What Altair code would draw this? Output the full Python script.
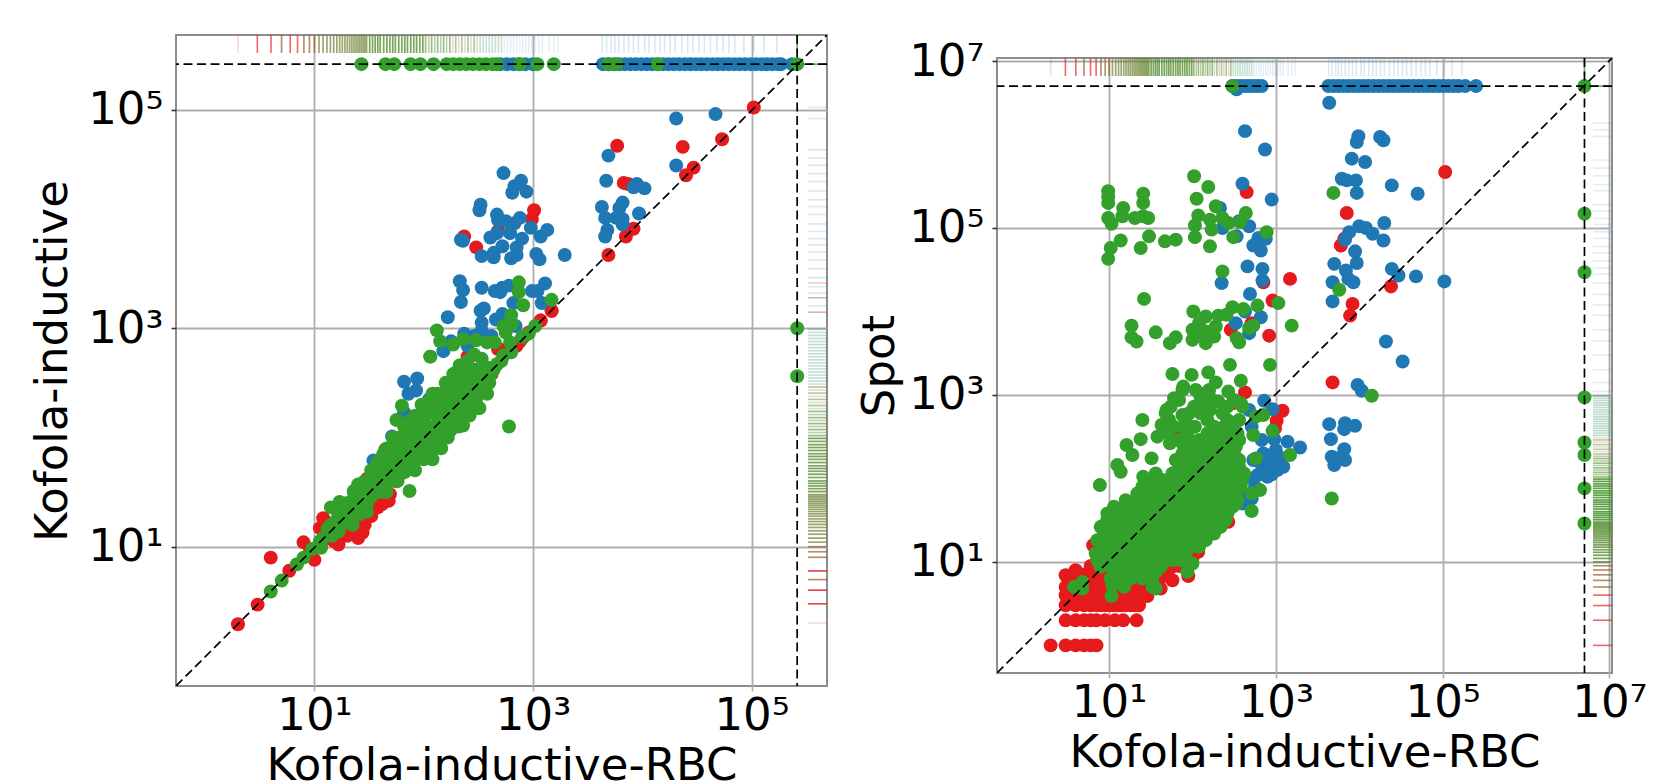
import altair as alt
import pandas as pd

RED, BLUE, GREEN = "#e41a1c", "#1f78b4", "#33a02c"

# All point lists are (log10 x, log10 y).
TIMEOUT_L = 5.417
TIMEOUT_R = 6.70

left_red = [(5.02,5.02),(4.73,4.73),(4.37,4.66),(3.77,4.67),(4.47,4.47),(4.40,4.40),(3.83,4.33),(3.87,4.32),
(3.92,3.91),(3.85,3.84),(3.69,3.67),(3.01,4.08),(2.99,4.0),(2.37,3.84),(2.48,3.74),(2.68,3.89),(3.17,3.16),
(3.07,3.07),(2.90,2.91),(2.96,2.96),(0.60,0.90),(0.48,0.47),(0.30,0.29),(0.77,0.78),(0.90,1.04),(1.0,0.88),
(1.08,1.26),(1.05,1.17),(1.16,1.07),(1.26,1.11),(1.44,1.13),(1.46,1.20),(1.36,1.20),(1.62,1.39),(1.69,1.48),
(1.54,1.39),(1.83,1.69),(1.65,1.89),(1.54,1.71),(2.01,1.83),(2.53,2.43),(2.44,2.75),(2.69,2.81),(2.88,2.88),
(1.48,1.62),(1.30,1.17),(1.18,1.05),(1.38,1.30),(2.68,2.81),(2.40,2.74),(2.85,2.84),(2.91,2.92),(3.07,3.07),
(3.17,3.16),(2.52,2.43),(1.50,1.50),(1.58,1.45),(1.75,1.60),(1.12,1.12),(1.35,1.15),(0.96,0.96),(2.62,2.58),
(1.40,1.08),(1.44,1.22),(1.58,1.36),(1.68,1.42),(1.30,1.10),(1.06,1.00),(1.52,1.28),(1.22,1.02)]

left_blue = [(4.31,4.92),(4.67,4.96),(3.69,4.58),(4.31,4.49),(3.67,4.35),(3.95,4.32),(4.02,4.28),(3.92,4.29),
(3.63,4.11),(3.82,4.15),(3.79,4.10),(3.97,4.05),(3.66,4.01),(3.76,4.01),(3.82,4.0),(3.82,3.95),(3.68,3.90),(3.66,3.84),
(2.73,4.42),(2.89,4.35),(2.83,4.30),(2.81,4.24),(2.94,4.25),(2.52,4.13),(2.51,4.08),(2.67,4.04),(2.68,3.99),(2.75,3.98),
(2.83,3.96),(2.88,4.01),(2.98,3.92),(3.13,3.90),(3.07,3.84),(2.67,3.87),(2.61,3.83),(2.79,3.87),(2.90,3.82),(2.34,3.81),
(2.36,3.80),(2.72,3.75),(2.85,3.74),(2.64,3.69),(2.53,3.66),(2.64,3.65),(2.85,3.67),(2.80,3.64),(3.03,3.68),(3.06,3.63),
(3.29,3.67),(2.33,3.43),(2.36,3.35),(2.34,3.24),(2.53,3.37),(2.65,3.34),(2.72,3.37),(2.78,3.39),(2.70,3.33),(2.99,3.34),
(3.04,3.34),(3.11,3.41),(3.08,3.23),(2.82,3.23),(2.55,3.18),(2.52,3.16),(2.22,3.10),(2.53,3.05),(2.53,2.98),(2.66,3.08),
(2.72,3.13),(2.84,3.02),(2.18,2.79),(2.25,2.88),(2.37,2.95),(2.46,2.93),(2.62,2.93),(2.40,2.84),(1.82,2.51),(1.94,2.54),
(1.86,2.40),(1.93,2.43),(2.46,2.62),(2.41,2.59),(2.23,2.46),(2.05,2.35),(1.82,2.23),(1.89,2.17),(1.71,2.01),(1.54,1.79)]
left_blue_timeout_x = [2.70,2.76,2.82,2.87,2.93,3.0,3.64,3.69,3.74,3.79,3.84,3.89,3.94,3.99,4.04,4.09,4.14,4.19,4.24,
4.29,4.34,4.39,4.44,4.49,4.54,4.59,4.64,4.69,4.74,4.79,4.84,4.89,4.94,4.99,5.04,5.09,5.14,5.19,5.24,5.27,5.37]

left_green = [(2.12,2.98),(2.15,2.88),(2.06,2.74),(2.27,2.85),(2.36,2.90),(2.48,2.89),(2.58,2.87),(2.65,2.87),(2.46,2.76),
(2.53,2.72),(2.33,2.66),(2.29,2.59),(2.87,3.42),(2.87,3.33),(2.91,3.21),(3.17,3.26),(2.80,3.12),(2.73,3.02),(2.81,3.04),
(2.75,2.96),(2.96,2.95),(2.79,2.87),(2.73,2.75),(2.67,2.67),(2.78,2.10),(1.80,2.29),(1.75,2.16),(2.50,2.27),(2.36,2.11),
(0.60,0.59),(0.70,0.69),(0.84,0.84),(0.90,0.90),(0.98,0.98),(1.06,0.99),(1.08,1.08),(1.12,1.16),(1.15,1.36),(1.23,1.41),
(1.22,1.14),(1.30,1.24),(1.38,1.30),(1.48,1.32),(1.40,1.57),(1.36,1.51),(1.46,1.57),(1.42,1.39),(1.54,1.54),(1.65,1.54),
(1.56,1.66),(1.69,1.69),(1.87,1.51),(1.91,1.77),(1.63,1.85),(1.75,1.91),(1.85,1.94),(1.97,2.0),(2.15,1.91),(2.13,1.97),
(2.07,1.86),(2.25,2.07),(2.35,2.12),(2.51,2.27),(2.06,2.74),(2.33,2.66),(2.27,2.58),(2.13,2.40),(2.05,2.33),(2.02,2.24),
(1.85,2.06),(1.87,2.15),(1.97,2.17),(2.13,2.21),(2.21,2.30),(2.37,2.36),(2.45,2.46),(2.53,2.52),(2.61,2.58),(2.71,2.70),
(2.45,2.61),(2.37,2.52),(2.29,2.43),(2.05,2.09),(2.17,2.15),(2.29,2.24),(1.69,1.85),(1.79,1.91),(1.91,1.98),(2.03,2.07),
(1.58,1.78),(1.65,1.72),(1.77,1.75),(1.89,1.86),(2.01,1.94),(1.58,1.60),(1.46,1.45),(1.30,1.36),(1.20,1.24),(1.36,1.42),
(1.54,1.63),(1.05,1.05),(1.16,1.10),(1.26,1.30),(1.50,1.48),(1.72,1.64),(1.80,1.80),(1.95,1.90),(2.08,2.0),(2.20,2.18),
(2.30,2.32),(2.42,2.40),(2.55,2.48),(2.80,2.78),(2.90,2.92),(3.02,3.02),(2.40,2.70),(2.58,2.64),(2.47,2.55),(2.34,2.46),
(1.44,1.48),(1.52,1.46),(1.60,1.50),(1.60,1.70),(1.70,1.60),(1.74,1.78),(1.82,1.68),(1.84,1.82),(1.92,1.88),(2.00,1.82),
(2.00,2.08),(2.10,2.10),(2.10,1.92),(2.18,2.04),(2.22,2.12),(2.26,2.20),(2.32,2.18),(2.40,2.28),(2.48,2.36),(2.42,2.52),
(2.50,2.60),(2.56,2.56),(2.64,2.62),(1.94,2.08),(1.92,2.12),(1.78,2.00),(1.80,1.96),(1.72,1.94),(1.68,1.78),(2.18,2.26)]
left_green_rows = {
    1.2: [1.15,1.25,1.35],
    1.3: [1.22,1.32,1.42],
    1.4: [1.30,1.40,1.48],
    1.5: [1.36,1.46,1.56,1.66],
    1.6: [1.46,1.56,1.66,1.76],
    1.7: [1.52,1.62,1.72,1.82,1.92],
    1.8: [1.60,1.70,1.80,1.90,2.00,2.08],
    1.9: [1.66,1.76,1.86,1.96,2.06,2.16],
    2.0: [1.72,1.82,1.92,2.02,2.12,2.22],
    2.1: [1.82,1.92,2.02,2.12,2.22,2.32],
    2.2: [1.92,2.02,2.12,2.22,2.32,2.42],
    2.3: [1.98,2.08,2.18,2.28,2.38,2.48],
    2.4: [2.08,2.18,2.28,2.38,2.48,2.58],
    2.5: [2.20,2.30,2.40,2.50,2.60],
    2.6: [2.32,2.42,2.52,2.62],
}
left_green_timeout_x = [1.43,1.65,1.73,1.88,1.97,2.09,2.21,2.27,2.33,2.39,2.45,2.51,2.57,2.63,2.67,2.88,3.04,3.19,3.69,3.76,4.14,5.417]
left_green_timeout_y = [3.0,2.56]

right_red = [(5.03,5.67),(2.65,5.43),(3.85,5.18),(3.78,4.79),(3.82,4.87),(3.17,4.39),(2.85,4.35),(4.38,4.30),(2.96,4.13),
(3.92,4.09),(3.89,3.95),(2.92,3.71),(2.46,3.78),(2.71,3.86),(3.68,3.15),(2.63,3.03),(3.08,2.81),(3.01,2.69),(2.99,2.60),
(1.79,2.56),(2.43,1.48),(2.48,2.90),(1.76,0.78),(1.95,0.83),(1.62,0.68),(1.46,0.59),(2.07,1.12),(1.88,0.98),(1.67,0.88),
(0.81,1.2),(0.48,0.84),(0.60,0.90)]
right_red_rows = {
    0.0: [0.30,0.48,0.60,0.70,0.78,0.85],
    0.30: [0.48,0.60,0.70,0.78,0.85,0.95,1.07,1.17,1.33],
    0.48: [0.48,0.60,0.70,0.78,0.85,0.90,0.95,1.0,1.04,1.08,1.11,1.15,1.2,1.25,1.3,1.36],
    0.60: [0.48,0.60,0.70,0.78,0.85,0.95,1.04,1.15,1.25,1.36,1.41],
    0.70: [0.48,0.6,0.7,0.78,0.85,0.95,1.04,1.11,1.2,1.3,1.4,1.49],
    0.78: [0.6,0.7,0.78,0.85,0.95,1.04,1.15,1.25,1.36,1.45,1.53,1.6],
    0.85: [0.7,0.78,0.85,0.95,1.04,1.15,1.25,1.36,1.45,1.53,1.62,1.7],
    0.95: [0.78,0.85,0.95,1.04,1.15,1.3,1.5,1.6,1.7,1.78,1.85],
    1.04: [0.9,1.0,1.5,1.7,1.8,1.9,2.0],
}

right_blue = [(2.53,6.66),(3.64,6.50),(2.63,6.16),(2.87,5.94),(3.99,6.10),(3.97,6.03),(4.25,6.09),(4.29,6.05),(3.91,5.83),
(4.07,5.79),(3.79,5.59),(3.85,5.57),(3.96,5.57),(3.97,5.42),(4.39,5.51),(4.70,5.41),(2.60,5.53),(2.95,5.34),(2.33,5.24),
(2.56,5.08),(2.68,5.02),(2.36,5.0),(2.53,4.90),(2.88,4.87),(2.79,4.88),(2.73,4.79),(2.82,4.73),(4.0,5.02),(4.08,5.0),
(3.88,4.95),(3.83,4.86),(4.16,4.93),(4.29,4.85),(4.30,5.06),(3.95,4.72),(3.97,4.58),(3.70,4.57),(3.84,4.49),(3.87,4.39),
(3.93,4.35),(3.68,4.35),(3.68,4.12),(4.39,4.51),(4.47,4.43),(4.68,4.42),(5.02,4.36),(2.66,4.54),(2.84,4.51),(2.84,4.37),
(2.35,4.34),(2.69,4.21),(2.82,3.93),(2.52,3.86),(2.68,3.74),(2.63,4.0),(4.32,3.64),(4.52,3.40),(3.98,3.12),(4.03,3.05),
(3.64,2.65),(3.83,2.66),(3.95,2.63),(3.82,2.59),(3.66,2.47),(3.82,2.35),(3.67,2.26),(3.73,2.24),(3.83,2.22),(3.70,2.16),
(2.86,2.93),(2.68,2.82),(2.96,2.83),(2.71,2.62),(2.83,2.46),(2.98,2.47),(3.14,2.44),(3.29,2.37),(3.0,2.34),(2.88,2.28),
(3.09,2.14),(2.90,2.02),(2.78,2.04),(2.96,2.18),(2.73,2.22),(2.58,1.82),(2.71,1.76),(2.25,1.62),(2.85,2.30),(2.92,2.12),
(2.80,2.20),(2.85,2.12),(2.90,2.20),(2.95,2.25),(3.00,2.20),(3.05,2.25),(2.85,2.05),(2.95,2.05),(3.02,2.10),(2.72,2.00),
(2.75,1.90),(2.65,1.75),(2.60,1.70)]
right_blue_timeout_x = [2.48,2.53,2.58,2.63,2.68,2.73,2.78,2.83,3.63,3.69,3.75,3.81,3.87,3.93,3.99,4.05,4.11,4.17,4.23,4.29,
4.35,4.41,4.47,4.53,4.59,4.65,4.71,4.77,4.83,4.89,4.95,5.01,5.07,5.13,5.19,5.27,5.40]

right_green = [(2.48,6.70),(6.70,6.70),(6.70,5.17),(6.70,4.47),(6.70,2.97),(6.70,2.43),(6.70,2.28),(6.70,1.88),(6.70,1.46),
(0.99,5.44),(0.99,5.37),(0.99,5.30),(1.41,5.41),(1.41,5.30),(1.17,5.24),(1.16,5.14),(1.31,5.12),(1.41,5.14),(1.47,5.12),
(0.99,5.12),(1.03,5.05),(1.14,4.85),(1.02,4.76),(0.99,4.63),(1.38,4.76),(1.48,4.90),(1.67,4.84),(1.80,4.86),(2.02,5.62),
(2.19,5.49),(2.05,5.35),(2.28,5.26),(2.64,5.18),(2.07,5.15),(2.03,5.03),(2.21,5.10),(2.36,5.12),(2.43,5.06),(2.57,5.07),
(2.23,4.98),(2.03,4.89),(2.21,4.78),(2.49,4.89),(2.89,4.95),(3.69,5.42),(2.36,4.48),(3.76,4.26),(1.42,4.15),(2.01,4.0),
(2.48,4.05),(2.61,4.03),(2.78,4.07),(3.03,4.10),(2.16,3.94),(2.31,3.95),(2.41,3.96),(3.19,3.83),(1.27,3.83),(1.27,3.69),
(1.33,3.64),(1.56,3.75),(1.80,3.69),(1.73,3.62),(2.0,3.78),(2.0,3.66),(2.08,3.86),(2.16,3.76),(2.26,3.70),(2.16,3.62),
(2.28,3.82),(2.08,3.74),(2.53,3.68),(2.56,3.63),(2.68,3.80),(2.73,3.83),(2.45,3.36),(2.93,3.36),(1.76,3.25),(1.99,3.24),
(2.19,3.27),(2.28,3.15),(2.58,3.17),(1.89,3.10),(1.78,2.96),(2.08,3.02),(2.43,3.04),(1.40,2.70),(1.69,2.82),(1.63,2.64),
(1.88,2.76),(2.03,2.62),(2.31,2.92),(2.58,2.90),(2.21,2.82),(2.76,2.74),(2.96,2.57),(2.85,2.76),(2.73,2.52),(2.76,2.24),
(3.17,2.28),(4.15,2.99),(3.67,1.76),(2.81,1.86),(2.71,1.82),(2.71,1.61),(2.53,1.70),(0.89,1.92),(1.10,2.16),(1.14,2.08),
(1.21,2.40),(1.38,2.47),(1.58,2.50),(1.73,2.42),(1.51,2.24),(1.41,2.02),(1.56,2.06),(1.28,2.28),(1.88,2.42),
(0.58,0.70),(0.68,0.76),(0.68,0.68),(1.52,0.70),(1.56,0.68),(1.94,0.88),(2.0,0.98),(1.86,1.02),(1.18,0.70),(1.04,0.72),(1.03,0.59)]
right_green_rows = {
    0.80: [1.02,1.14,1.26,1.40,1.52],
    0.88: [1.08,1.20,1.32,1.44,1.56],
    0.94: [0.90,1.02,1.14,1.26,1.38,1.50,1.62],
    1.02: [0.86,0.96,1.08,1.20,1.32,1.44,1.56,1.68,1.76],
    1.10: [0.84,0.98,1.10,1.22,1.34,1.46,1.58,1.70,1.82,1.92],
    1.18: [0.92,1.04,1.16,1.28,1.40,1.52,1.64,1.76,1.88,1.98,2.08],
    1.26: [0.86,1.0,1.12,1.24,1.36,1.48,1.60,1.72,1.84,1.96,2.06,2.16],
    1.34: [0.94,1.06,1.18,1.30,1.42,1.54,1.66,1.78,1.90,2.02,2.14,2.26],
    1.42: [0.90,1.04,1.16,1.28,1.40,1.52,1.64,1.76,1.88,2.0,2.12,2.24,2.34],
    1.50: [0.98,1.10,1.22,1.34,1.46,1.58,1.70,1.82,1.94,2.06,2.18,2.30,2.40],
    1.58: [0.98,1.10,1.22,1.34,1.46,1.58,1.70,1.82,1.94,2.06,2.18,2.30,2.42],
    1.66: [1.06,1.18,1.30,1.42,1.54,1.66,1.78,1.90,2.02,2.14,2.26,2.38,2.48],
    1.74: [1.20,1.32,1.44,1.56,1.68,1.80,1.92,2.04,2.16,2.28,2.40,2.54],
    1.82: [1.34,1.46,1.58,1.70,1.82,1.94,2.06,2.18,2.30,2.42,2.52],
    1.90: [1.40,1.52,1.64,1.76,1.88,2.0,2.12,2.24,2.36,2.48,2.58],
    1.98: [1.48,1.64,1.78,1.90,2.02,2.14,2.26,2.38,2.50,2.60],
    2.06: [1.76,1.88,2.0,2.12,2.24,2.36,2.48,2.62],
    2.14: [1.84,1.96,2.08,2.20,2.32,2.44,2.56],
    2.22: [1.80,1.92,2.04,2.16,2.28,2.40,2.56],
    2.30: [1.88,2.00,2.12,2.24,2.36,2.50],
    2.38: [1.96,2.08,2.20,2.32,2.44,2.52],
    2.46: [1.84,1.96,2.08,2.20,2.32,2.44,2.56],
    2.54: [1.70,1.94,2.18,2.30,2.42,2.54],
    2.62: [1.78,1.90,2.26,2.38,2.50],
    2.70: [1.72,1.92,2.18,2.42,2.56],
    2.78: [1.68,1.96,2.10,2.36],
    2.86: [1.74,2.02,2.14,2.42,2.60],
    2.94: [1.84,2.10,2.24,2.50],
    3.06: [1.88,2.04,2.20],
}

# Rug marks: value lists grouped by how many points share the value.
ints_11_30 = [11,12,13,14,15,16,17,18,19,20,21,22,23,24,25,26,27,28,29,30]
band_a = [32,34,36,38,40,43,46,49,52,55,59,63,67,71,76,81,86,92,98]
band_b = [104,111,118,126,134,143,152,162,173,184,196,209,223,238,254,271,289,308]
band_c = [328,350,373,398,424,452,482,514,548,584,623,664,708,755,805,859,916,977]
band_d = [1050,1130,1220,1400,1550,1700]
blue_high = [4300,4700,5200,5600,6100,6800,7500,8300,9200,10500,11500,13000,14500,16000,18000,20000,
             23000,26000,29000,33000,37000,42000,48000,55000,62000,70000,85000,105000,130000,170000]

red_top = {1:[2], 4:[3,4,6,7], 3:[5,8,9,10], 2:ints_11_30+band_a[::2], 1.5:band_a[1::2]+band_b[::2]}
green_top = {2:[5,8,9,10], 3:ints_11_30, 4:band_a, 2.5:band_b[:9], 1.5:band_b[9:], 1:band_c[:8]}
blue_top = {0.7:band_c+band_d, 1:blue_high}

red_right_l = {1:[2], 5:[3,4,6], 3:[5,8,9,10], 2:ints_11_30+band_a[::2], 1.5:band_a[1::2]+band_b[::2]+[1400,1900,2600]}
green_right_l = {2:[5,8,9,10], 3:ints_11_30, 4:band_a, 2.5:band_b[:9], 1.5:band_b[9:], 0.8:band_c}
blue_right_l = {1:band_c+[1400,1600,1900,2100,2400,2900,3500,4200,5000,5800,6600,7700,9000,11000,13000,15000,
                          18000,22000,26000,31000,36000,43000,83000,105000]}

red_right_r = {4:[1,2,3,4], 3:[5,6,7,8,9], 2:[10]+ints_11_30, 1.5:band_a+band_b[::2]}
green_right_r = {2:[5,6,7,8,9], 4:[10]+ints_11_30, 5:band_a, 2.5:band_b[:10], 1.2:band_b[10:]+band_c}
blue_right_r = {0.8:band_c+[1100,1400,2000,3000,4400,6000,9000,12000,16000,22000,28000,33000,40000,50000,60000,75000,
                            90000,110000,130000,160000,190000,280000,330000,420000,520000,650000,1250000,1500000,1800000]}


def tbl(pairs, rows=None, timeout_x=None, timeout_y=None, t=None):
    pts = list(pairs)
    for y, xs in (rows or {}).items():
        pts += [(x, y) for x in xs]
    pts += [(x, t) for x in (timeout_x or [])]
    pts += [(t, y) for y in (timeout_y or [])]
    return pd.DataFrame({"x": [10 ** p[0] for p in pts], "y": [10 ** p[1] for p in pts]})


def rug_tbl(groups, extra=None):
    rec = [(v, c) for c, vs in groups.items() for v in vs]
    if extra:
        rec += extra
    return pd.DataFrame(rec, columns=["v", "c"])


LABELS = "'10' + (datum.value == 10 ? '¹' : datum.value == 1000 ? '³' : datum.value == 100000 ? '⁵' : '⁷')"
GRID = "#adadad"
FRAME = "#8c8c8c"
TICK_FONT = 45
TITLE_FONT = 45


def panel(w, lo, hi, ticks, t, xtitle, ytitle, ytitle_pad, pts, rugs, rug_len):
    sx = alt.Scale(type="log", domain=[10 ** lo[0], 10 ** hi[0]], nice=False)
    sy = alt.Scale(type="log", domain=[10 ** lo[1], 10 ** hi[1]], nice=False)
    font = dict(labelFont="DejaVu Sans", titleFont="DejaVu Sans", labelFontSize=TICK_FONT, titleFontSize=TITLE_FONT,
                titleFontWeight="normal", labelColor="black", titleColor="black", gridColor=GRID, gridWidth=1.8,
                domain=False, tickSize=5, labelExpr=LABELS, values=ticks, labelOverlap=False, labelFlush=False)
    ax_x = alt.Axis(title=xtitle, tickColor=GRID, tickWidth=1.6, labelPadding=2, titlePadding=5, labelAngle=0, **font)
    ax_y = alt.Axis(title=ytitle, tickColor="#333333", tickWidth=1.6, labelPadding=8, titlePadding=ytitle_pad, **font)
    X = alt.X("x:Q", scale=sx, axis=ax_x)
    Y = alt.Y("y:Q", scale=sy, axis=ax_y)

    base = alt.Chart(pd.DataFrame({"x": [10 ** lo[0], 10 ** hi[0]], "y": [10 ** lo[1], 10 ** hi[1]]}))

    op = alt.Opacity("c:Q", scale=alt.Scale(domain=[0, 6], range=[0, 1]), legend=None)
    layers = []
    for (top_df, right_df, col) in rugs:
        layers.append(alt.Chart(top_df).mark_rule(color=col, strokeWidth=1.6, clip=True).encode(
            x=alt.X("v:Q", scale=sx, axis=ax_x), y=alt.value(0), y2=alt.value(rug_len), opacity=op))
        layers.append(alt.Chart(right_df).mark_rule(color=col, strokeWidth=1.6, clip=True).encode(
            y=alt.Y("v:Q", scale=sy, axis=ax_y), x=alt.value(w - rug_len - 1), x2=alt.value(w), opacity=op))
    for df, col in pts:
        layers.append(alt.Chart(df).mark_circle(size=195, color=col, opacity=1).encode(x=X, y=Y))

    dash = [9, 4.5]
    layers.append(base.mark_line(color="black", strokeWidth=1.7, strokeDash=dash, clip=True).encode(x=X, y=Y))
    tv = pd.DataFrame({"t": [10 ** t]})
    layers.append(alt.Chart(tv).mark_rule(color="black", strokeWidth=1.7, strokeDash=dash).encode(
        x=alt.X("t:Q", scale=sx, axis=ax_x)))
    layers.append(alt.Chart(tv).mark_rule(color="black", strokeWidth=1.7, strokeDash=dash).encode(
        y=alt.Y("t:Q", scale=sy, axis=ax_y)))
    return alt.layer(*layers).properties(width=w, height=w)


left = panel(651, (-0.267, -0.275), (5.69, 5.684), [10, 1000, 100000], TIMEOUT_L,
             "Kofola-inductive-RBC", "Kofola-inductive", 12,
             [(tbl(left_red), RED),
              (tbl(left_blue, timeout_x=left_blue_timeout_x, t=TIMEOUT_L), BLUE),
              (tbl(left_green, rows=left_green_rows, timeout_x=left_green_timeout_x, timeout_y=left_green_timeout_y, t=TIMEOUT_L), GREEN)],
             [(rug_tbl(red_top), rug_tbl(red_right_l), RED),
              (rug_tbl(blue_top), rug_tbl(blue_right_l), BLUE),
              (rug_tbl(green_top, [(10 ** TIMEOUT_L, 5)]), rug_tbl(green_right_l, [(10 ** TIMEOUT_L, 5)]), GREEN)], 18)

right = panel(615, (-0.343, -0.331), (7.03, 7.036), [10, 1000, 100000, 10000000], TIMEOUT_R,
              "Kofola-inductive-RBC", "Spot", 6,
              [(tbl(right_red, rows=right_red_rows), RED),
               (tbl(right_blue, timeout_x=right_blue_timeout_x, t=TIMEOUT_R), BLUE),
               (tbl(right_green, rows=right_green_rows), GREEN)],
              [(rug_tbl(red_top), rug_tbl(red_right_r), RED),
               (rug_tbl(blue_top), rug_tbl(blue_right_r), BLUE),
               (rug_tbl(green_top, [(10 ** TIMEOUT_R, 5)]), rug_tbl(green_right_r, [(10 ** TIMEOUT_R, 5)]), GREEN)], 18)

spacer = alt.Chart(pd.DataFrame({"a": [0]})).mark_point(opacity=0).encode(
    x=alt.value(0), y=alt.value(0)).properties(width=1, height=3, view=alt.ViewConfig(stroke=None))

chart = alt.hconcat(left, alt.vconcat(spacer, right, spacing=0), spacing=27).properties(
    padding={"left": 21, "top": 24, "right": 0, "bottom": 0}
).configure_view(stroke=FRAME, strokeWidth=2).resolve_scale(opacity="independent")

chart.save("out.html", embed_options={"renderer": "svg", "actions": False})
